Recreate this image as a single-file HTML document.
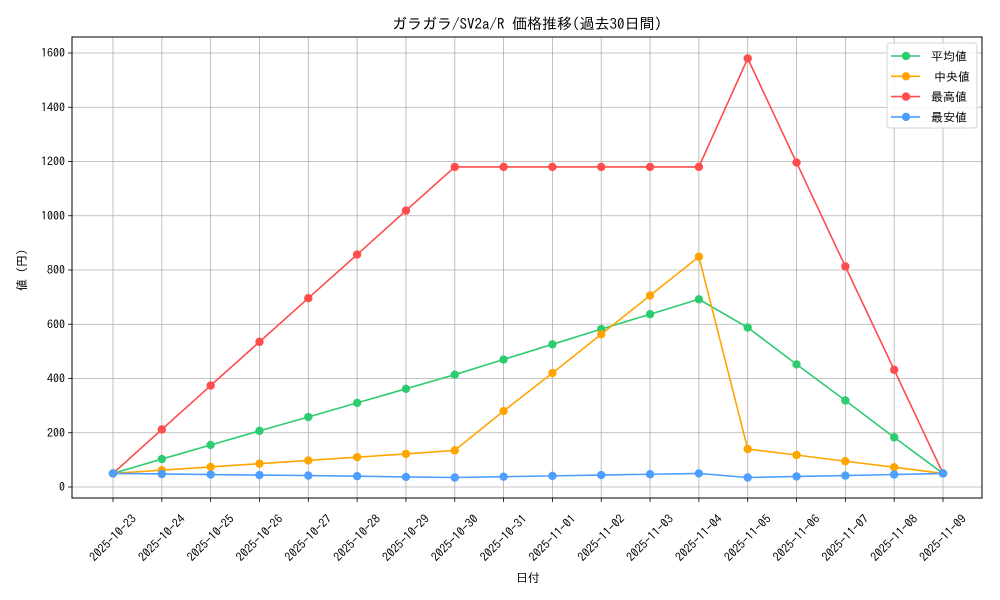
<!DOCTYPE html>
<html><head><meta charset="utf-8">
<style>
html,body{margin:0;padding:0;background:#fff;}
svg{display:block;font-family:"IPAGothic","Noto Sans CJK JP","Liberation Sans",sans-serif;}
</style></head><body>
<svg id="c" width="1000" height="600" xmlns="http://www.w3.org/2000/svg"></svg>
<script>
const s=document.getElementById('c');
const L=72,R=982,T=37,B=498;
const x0=113,dx=(943-113)/17;
const y=v=>487-v*0.27125;
const dates=["2025-10-23","2025-10-24","2025-10-25","2025-10-26","2025-10-27","2025-10-28","2025-10-29","2025-10-30","2025-10-31","2025-11-01","2025-11-02","2025-11-03","2025-11-04","2025-11-05","2025-11-06","2025-11-07","2025-11-08","2025-11-09"];
const series=[
["#2ecc71",[50,103,155,207,258,310,362,414,470,526,582,637,692,588,452,319,183,50]],
["#ffa500",[50,62,74,86,98,110,122,135,280,420,563,706,849,140,118,95,73,50]],
["#ff4c4c",[50,212,374,535,696,857,1019,1180,1180,1180,1180,1180,1180,1580,1196,813,432,50]],
["#4d9eff",[50,48,46,44,42,40,37,35,38,41,44,47,50,35,39,42,46,50]]];
let h='';
for(let i=0;i<18;i++){const X=x0+i*dx;h+=`<line x1="${X}" y1="${T}" x2="${X}" y2="${B}" stroke="#b0b0b0" stroke-width="0.8"/>`;
h+=`<line x1="${X}" y1="${B}" x2="${X}" y2="${B+4}" stroke="#000" stroke-width="0.8"/>`;
h+=`<text transform="translate(${X},${B+40}) rotate(-45)" y="4" text-anchor="middle" font-size="12">${dates[i]}</text>`;}
for(let v=0;v<=1600;v+=200){const Y=y(v);h+=`<line x1="${L}" y1="${Y}" x2="${R}" y2="${Y}" stroke="#b0b0b0" stroke-width="0.8"/>`;
h+=`<line x1="${L-4}" y1="${Y}" x2="${L}" y2="${Y}" stroke="#000" stroke-width="0.8"/>`;
h+=`<text x="${L-7}" y="${Y+4}" text-anchor="end" font-size="12">${v}</text>`;}
for(const [c,d] of series){h+=`<polyline fill="none" stroke="${c}" stroke-width="1.6" points="${d.map((v,i)=>(x0+i*dx)+','+y(v)).join(' ')}"/>`;
d.forEach((v,i)=>h+=`<circle cx="${x0+i*dx}" cy="${y(v)}" r="4.2" fill="${c}"/>`);}
h+=`<rect x="${L}" y="${T}" width="${R-L}" height="${B-T}" fill="none" stroke="#000" stroke-width="1"/>`;
h+=`<text x="527" y="29" text-anchor="middle" font-size="15">ガラガラ/SV2a/R 価格推移(過去30日間)</text>`;
h+=`<text x="528" y="582" text-anchor="middle" font-size="12">日付</text>`;
h+=`<text transform="translate(26,270) rotate(-90)" text-anchor="middle" font-size="12">値 (円)</text>`;
h+=`<rect x="887" y="43" width="90" height="85" rx="3" fill="#fff" fill-opacity="0.85" stroke="#d5d5d5"/>`;
const names=["平均値","中央値","最高値","最安値"];
series.forEach(([c],i)=>{const Y=56+i*20.3;h+=`<line x1="891" y1="${Y}" x2="920" y2="${Y}" stroke="${c}" stroke-width="1.6"/><circle cx="906" cy="${Y}" r="4.2" fill="${c}"/><text x="${i==1?934:931}" y="${Y+4.5}" font-size="12">${names[i]}</text>`;});
s.innerHTML=h;
</script>
</body></html>
